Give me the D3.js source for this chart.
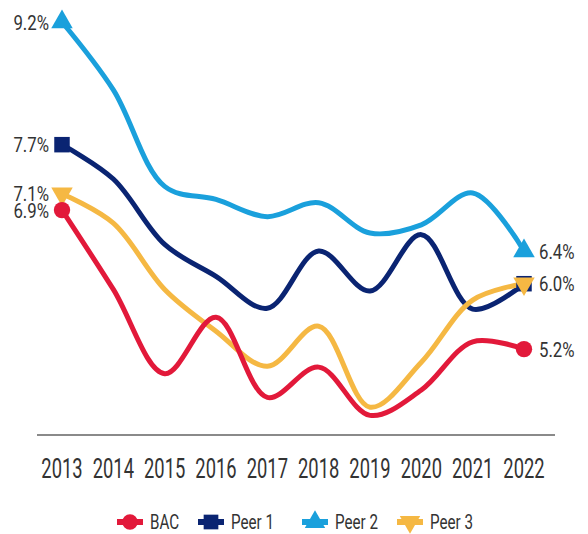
<!DOCTYPE html>
<html>
<head>
<meta charset="utf-8">
<script src="https://cdn.jsdelivr.net/npm/d3@7"></script>
<style>
  body { margin: 0; background: #fff; }
  svg text { font-family: Roboto, "Noto Sans", sans-serif; font-weight: 400; fill: #333; }
</style>
</head>
<body>
<svg id="chart" width="588" height="534"></svg>
<script>
// ── Data ──────────────────────────────────────────────────────────────────────
const YEARS = [2013, 2014, 2015, 2016, 2017, 2018, 2019, 2020, 2021, 2022];
const BAC   = [6.9, 5.93, 4.90, 5.59, 4.61, 4.98, 4.39, 4.70, 5.29, 5.2];
const PEER1 = [7.7, 7.28, 6.48, 6.09, 5.70, 6.40, 5.91, 6.60, 5.69, 6.0];
const PEER2 = [9.2, 8.37, 7.19, 7.03, 6.82, 6.99, 6.62, 6.72, 7.11, 6.4];
const PEER3 = [7.1, 6.74, 5.93, 5.42, 4.99, 5.48, 4.49, 5.04, 5.80, 6.0];
const SERIES_NAMES = ["BAC", "Peer 1", "Peer 2", "Peer 3"];

// ── Setup ─────────────────────────────────────────────────────────────────────
const svg = d3.select("#chart");
const COLORS = { "BAC": "#e2193a", "Peer 1": "#0a2472", "Peer 2": "#1aa0dc", "Peer 3": "#f5b843" };
const SYMBOLS = {
  "BAC":    { type: d3.symbolCircle,   size: 210, rot: 0 },
  "Peer 1": { type: d3.symbolSquare,   size: 240, rot: 0 },
  "Peer 2": { type: d3.symbolTriangle, size: 200, rot: 0 },
  "Peer 3": { type: d3.symbolTriangle, size: 200, rot: 180 }
};

const series = SERIES_NAMES.map((name, i) => ({
  name,
  values: [BAC, PEER1, PEER2, PEER3][i].map((v, j) => ({ year: YEARS[j], v }))
}));

const x = d3.scalePoint().domain(YEARS).range([62, 524]);
const y = d3.scaleLinear().domain([4.15, 9.2]).range([435, 22]);

// baseline axis
svg.append("line")
  .attr("x1", 37).attr("x2", 555)
  .attr("y1", y(4.15)).attr("y2", y(4.15))
  .attr("stroke", "#8a8a8a").attr("stroke-width", 2);

// year labels (condensed via horizontal scale)
svg.append("g").selectAll("text")
  .data(YEARS)
  .join("text")
  .attr("transform", d => `translate(${x(d)},478) scale(0.68,1)`)
  .attr("text-anchor", "middle")
  .attr("font-size", "27px")
  .text(d => d);

// ── Lines ─────────────────────────────────────────────────────────────────────
const line = d3.line()
  .x(d => x(d.year))
  .y(d => y(d.v))
  .curve(d3.curveCatmullRom.alpha(0.5));

// draw order: Peer 2, Peer 1, Peer 3, BAC (BAC on top)
const order = ["Peer 2", "Peer 1", "Peer 3", "BAC"];
const linesG = svg.append("g");
order.forEach(name => {
  const s = series.find(d => d.name === name);
  linesG.append("path")
    .datum(s.values)
    .attr("fill", "none")
    .attr("stroke", COLORS[name])
    .attr("stroke-width", 5)
    .attr("stroke-linecap", "round")
    .attr("d", line);
});

// end markers
const sym = (name, k = 1) => d3.symbol().type(SYMBOLS[name].type).size(SYMBOLS[name].size * k)();
order.forEach(name => {
  const s = series.find(d => d.name === name);
  const ends = [s.values[0], s.values[s.values.length - 1]];
  linesG.selectAll(null)
    .data(ends)
    .join("path")
    .attr("d", sym(name))
    .attr("fill", COLORS[name])
    .attr("transform", d => `translate(${x(d.year)},${y(d.v)}) rotate(${SYMBOLS[name].rot})`);
});

// value labels at start and end (shared values drawn once)
const labelsG = svg.append("g");
const seen = new Set();
function valueLabel(px, v, anchor) {
  const key = anchor + v.toFixed(1);
  if (seen.has(key)) return;
  seen.add(key);
  labelsG.append("text")
    .attr("transform", `translate(${px},${y(v)}) scale(0.8,1)`)
    .attr("dy", "0.36em")
    .attr("text-anchor", anchor)
    .attr("font-size", "21px")
    .text(v.toFixed(1) + "%");
}
series.forEach(s => {
  valueLabel(49, s.values[0].v, "end");
  valueLabel(539, s.values[s.values.length - 1].v, "start");
});

// ── Legend ────────────────────────────────────────────────────────────────────
const LEG_X = [130, 211, 315, 410];
const legG = svg.append("g").attr("transform", "translate(0,522)");
SERIES_NAMES.forEach((name, i) => {
  const row = legG.append("g").attr("transform", `translate(${LEG_X[i]},0)`);
  row.append("line")
    .attr("x1", -13).attr("x2", 13)
    .attr("stroke", COLORS[name]).attr("stroke-width", 6);
  row.append("path")
    .attr("d", sym(name, 0.9))
    .attr("fill", COLORS[name])
    .attr("transform", `rotate(${SYMBOLS[name].rot})`);
  row.append("text")
    .attr("transform", "translate(20,0) scale(0.76,1)")
    .attr("dy", "0.36em")
    .attr("font-size", "20px")
    .text(name);
});
</script>
</body>
</html>
